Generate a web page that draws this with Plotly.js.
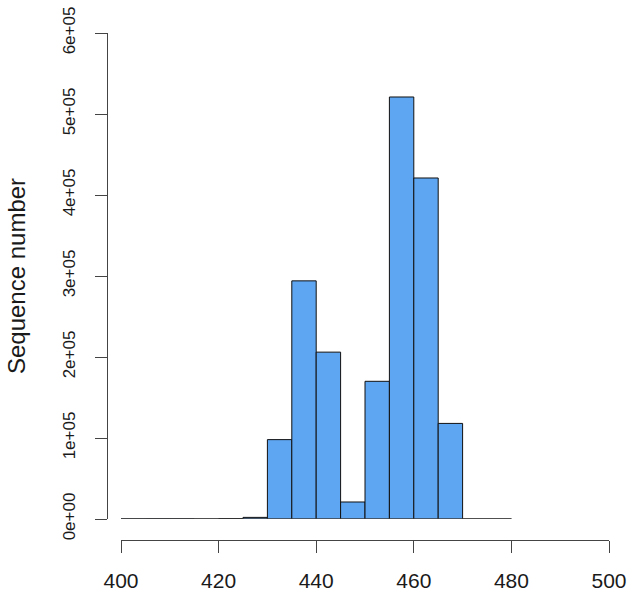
<!DOCTYPE html>
<html>
<head>
<meta charset="utf-8">
<script src="https://cdn.plot.ly/plotly-3.0.1.min.js"></script>
<style>html,body{margin:0;padding:0;background:#fff;}#chart{width:630px;height:591px;}</style>
</head>
<body>
<div id="chart"></div>
<script>
// Histogram bins (left edges), bin width 5
const binStarts = [400, 405, 410, 415, 420, 425, 430, 435, 440, 445, 450, 455, 460, 465, 470, 475];
const binWidth = 5;
const counts = [150, 250, 250, 0, 600, 2000, 98000, 294000, 206000, 21000, 170000, 521000, 421000, 118000, 0, 0];
const xTicks = [400, 420, 440, 460, 480, 500];
const yTicks = [0, 100000, 200000, 300000, 400000, 500000, 600000];
const yTickText = ["0e+00", "1e+05", "2e+05", "3e+05", "4e+05", "5e+05", "6e+05"];
const yTitle = "Sequence number";

const centers = binStarts.map(b => b + binWidth / 2);
const edges = [binStarts[0], binStarts[binStarts.length - 1] + binWidth];

const W = 630, H = 591;
const fam = "Liberation Sans, Arial, sans-serif";
const txt = "#1a1a1a";

const traces = [
  {
    type: "scatter", mode: "lines",
    x: edges, y: [0, 0],
    line: {color: "#555", width: 1},
    cliponaxis: false, hoverinfo: "skip", showlegend: false
  },
  {
    type: "bar",
    x: centers, y: counts, width: binWidth,
    marker: {color: "#5EA6F1", line: {color: "#111", width: 1}},
    cliponaxis: false, showlegend: false
  }
];

const layout = {
  width: W, height: H,
  margin: {l: 0, r: 0, t: 0, b: 0},
  paper_bgcolor: "#fff", plot_bgcolor: "rgba(0,0,0,0)",
  font: {family: fam, size: 18, color: txt},
  showlegend: false,
  bargap: 0,
  xaxis: {
    domain: [121 / W, 609 / W],
    range: [400, 500],
    anchor: "free", position: (H - 540) / H,
    tickvals: xTicks, ticktext: xTicks.map(String),
    ticks: "outside", ticklen: 12, tickwidth: 1, tickcolor: "#444",
    showline: true, linecolor: "#444", linewidth: 1,
    showgrid: false, zeroline: false,
    ticklabelstandoff: 10,
    tickfont: {family: fam, size: 21, color: txt}
  },
  yaxis: {
    domain: [(H - 519) / H, (H - 33) / H],
    range: [0, 600000],
    anchor: "free", position: 107 / W,
    tickvals: yTicks, ticktext: yTickText, tickangle: -90,
    ticks: "outside", ticklen: 12, tickwidth: 1, tickcolor: "#444",
    showline: true, linecolor: "#444", linewidth: 1,
    showgrid: false, zeroline: false,
    ticklabelstandoff: 13,
    tickfont: {family: fam, size: 17, color: txt},
    title: {text: yTitle, font: {family: fam, size: 24, color: txt}, standoff: 26}
  }
};

Plotly.newPlot("chart", traces, layout, {staticPlot: true, displayModeBar: false});
</script>
</body>
</html>
